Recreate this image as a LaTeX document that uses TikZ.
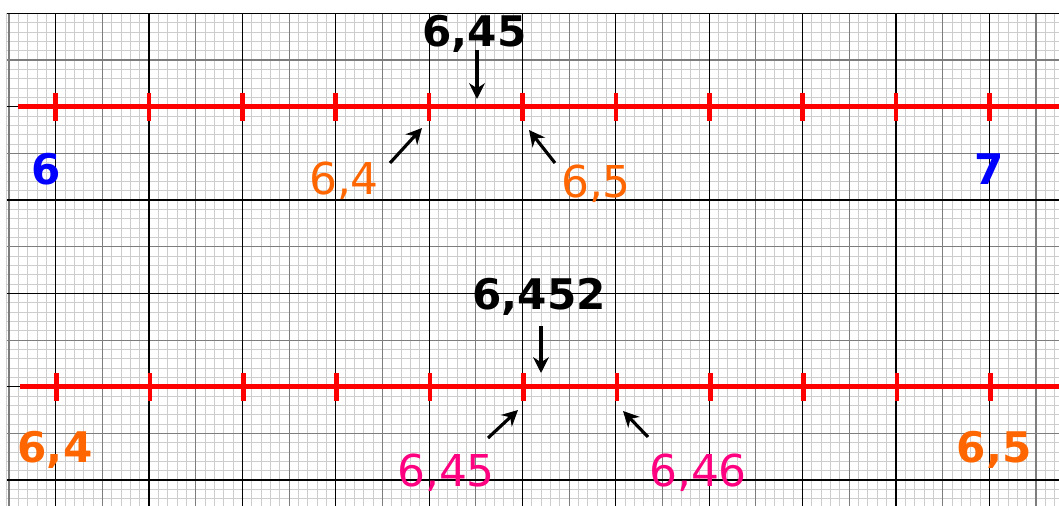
\documentclass[tikz,border=0pt]{standalone}
\usepackage{fontspec}
\setmainfont{DejaVu Sans}
\usetikzlibrary{arrows.meta}
\definecolor{redline}{RGB}{255,0,0}
\definecolor{orangelbl}{RGB}{255,102,0}
\definecolor{pinklbl}{RGB}{255,0,128}
\definecolor{bluelbl}{RGB}{0,0,255}
\definecolor{minorg}{RGB}{205,205,205}
\definecolor{midg}{RGB}{125,125,125}
\tikzset{
  minorline/.style={draw=minorg, line width=0.5pt},
  midline/.style={draw=midg, line width=0.6pt},
  majorline/.style={draw=black, line width=0.7pt},
  numline/.style={draw=redline, line width=2.8pt},
  tickmark/.style={draw=redline, line width=2.6pt},
  pointer/.style={draw=black, line width=1.8pt, -{Stealth[length=9pt,width=9pt]}},
  lbl/.style={anchor=base, inner sep=0pt, font=\fontsize{25}{30}\selectfont},
  lblb/.style={lbl, font=\fontsize{24}{30}\selectfont\bfseries}
}
\begin{document}
\begin{tikzpicture}[x=0.02cm,y=-0.02cm]
\useasboundingbox (0,0) rectangle (1059,506);
\fill[white] (0,0) rectangle (1059,506);
% grid paper
\begin{scope}
\clip (6.7,13.3) rectangle (1059,506);
\foreach \i in {0,...,112} \draw[minorline] ({9.02+\i*9.336},13.3) -- ({9.02+\i*9.336},506);
\foreach \i in {0,...,53} \draw[minorline] (6.7,{13.3+\i*9.336}) -- (1059,{13.3+\i*9.336});
\foreach \i in {0,...,22} \draw[midline] ({9.02+\i*46.68},13.3) -- ({9.02+\i*46.68},506);
\foreach \i in {0,...,10} \draw[midline] (6.7,{13.3+\i*46.68}) -- (1059,{13.3+\i*46.68});
\foreach \i in {0,...,10} \draw[majorline] ({55.7+\i*93.36},13.3) -- ({55.7+\i*93.36},506);
\foreach \i in {0,...,5} \draw[majorline] (6.7,{13.3+\i*93.36}) -- (1059,{13.3+\i*93.36});
\draw[midline] (6.7,13.3) -- (6.7,506);
\end{scope}
% number line 1
\coordinate (l1s) at (18,106.7);
\coordinate (l1e) at (1059,106.7);
\draw[numline] (l1s) -- (l1e);
\foreach \i in {0,...,10} {
  \coordinate (a\i) at ({55.7+\i*93.36},106.7);
  \draw[tickmark] ([yshift=-14*0.02cm]a\i) -- ([yshift=14*0.02cm]a\i);
}
% number line 2
\coordinate (l2s) at (20,386.7);
\coordinate (l2e) at (1059,386.7);
\draw[numline] (l2s) -- (l2e);
\foreach \i in {0,...,10} {
  \coordinate (b\i) at ({56.7+\i*93.36},386.7);
  \draw[tickmark] ([yshift=-14*0.02cm]b\i) -- ([yshift=14*0.02cm]b\i);
}
% labels line 1
\node[lblb, text=bluelbl] (six) at (46,185) {6};
\node[lblb, text=bluelbl] (seven) at (989,185) {7};
\node[lblb, text=black] (q1) at (474.5,47) {6,45};
\node[lbl, text=orangelbl] (l64) at (344,195) {6,4};
\node[lbl, text=orangelbl] (l65) at (596,198) {6,5};
\coordinate (q1s) at (477,50);
\coordinate (q1e) at (477,99);
\coordinate (p64s) at (390,163);
\coordinate (p64e) at (422,128);
\coordinate (p65s) at (555,163);
\coordinate (p65e) at (529,130);
\draw[pointer] (q1s) -- (q1e);
\draw[pointer] (p64s) -- (p64e);
\draw[pointer] (p65s) -- (p65e);
% labels line 2
\node[lblb, text=black] (q2) at (539,310) {6,452};
\node[lbl, text=pinklbl] (l645) at (446,487) {6,45};
\node[lbl, text=pinklbl] (l646) at (698,487) {6,46};
\node[lblb, text=orangelbl] (m64) at (55,463) {6,4};
\node[lblb, text=orangelbl] (m65) at (994,463) {6,5};
\coordinate (q2s) at (541,326);
\coordinate (q2e) at (541,373);
\coordinate (r645s) at (488,438);
\coordinate (r645e) at (518,410);
\coordinate (r646s) at (648,437);
\coordinate (r646e) at (623,411);
\draw[pointer] (q2s) -- (q2e);
\draw[pointer] (r645s) -- (r645e);
\draw[pointer] (r646s) -- (r646e);
\end{tikzpicture}
\end{document}
